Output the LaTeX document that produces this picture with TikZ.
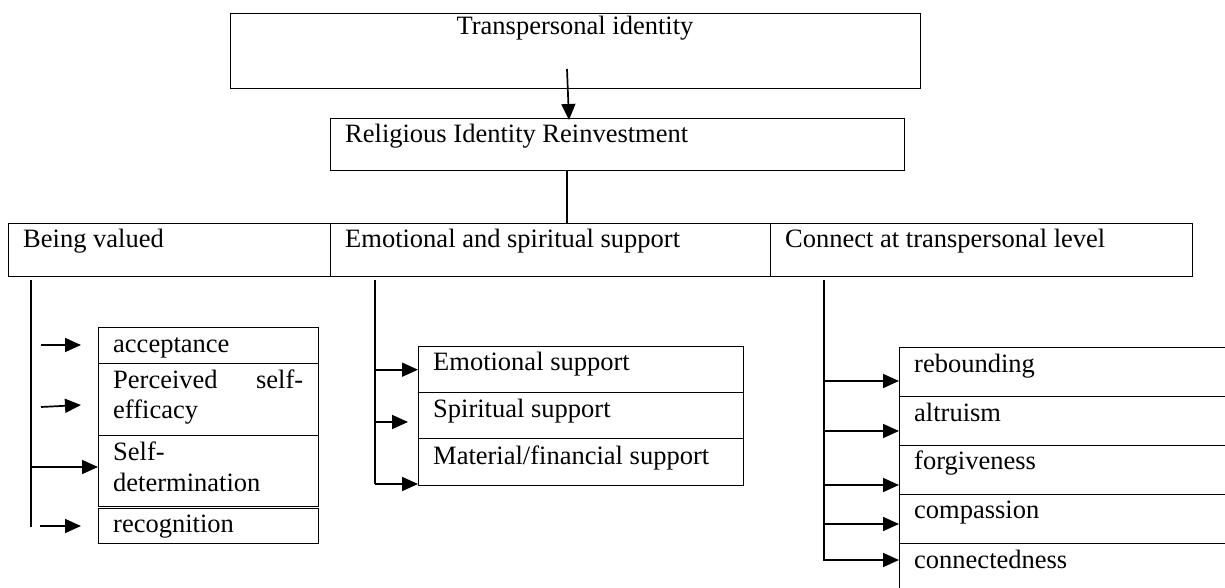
\documentclass[tikz,border=0pt]{standalone}
\usepackage{fontspec}
\setmainfont{Liberation Serif}
\usetikzlibrary{arrows.meta}
\begin{document}
\begin{tikzpicture}[x=1pt,y=-1pt,
  box/.style={draw, line width=1.4pt, inner sep=0pt, anchor=north west},
  txt/.style={inner sep=0pt, anchor=base west, font=\fontsize{26.5}{30.5}\selectfont, align=left},
  conn/.style={line width=1.7pt},
  arr/.style={line width=1.7pt, -{Triangle[length=16pt,width=14pt]}}]
\useasboundingbox (0,0) rectangle (1225,588);
\clip (0,0) rectangle (1225,588);

% top levels
\node[box, minimum width=690pt, minimum height=75pt] (tp) at (230,13) {};
\node[txt, anchor=base] (tpt) at (575,35) {Transpersonal identity};
\node[box, minimum width=574pt, minimum height=52pt] (rir) at (330,118) {};
\node[txt] (rirt) at (345,143) {Religious Identity Reinvestment};
\coordinate (a0) at (567,69);
\coordinate (a1) at (569,120);
\draw[arr] (a0) -- (a1);
\coordinate (b0) at (567,170);
\coordinate (b1) at (567,223);
\draw[conn] (b0) -- (b1);

% row
\node[box, minimum width=322pt, minimum height=53pt] (bv) at (8,223) {};
\node[box, minimum width=440pt, minimum height=53pt] (es) at (330,223) {};
\node[box, minimum width=422pt, minimum height=53pt] (ct) at (770,223) {};
\node[txt] (bvt) at (23,247) {Being valued};
\node[txt] (est) at (345,247) {Emotional and spiritual support};
\node[txt] (ctt) at (785,247) {Connect at transpersonal level};

% left column
\node[box, minimum width=220pt, minimum height=36pt] (acc) at (98,327) {};
\node[box, minimum width=220pt, minimum height=72pt] (pse) at (98,363) {};
\node[box, minimum width=220pt, minimum height=71pt] (sd) at (98,435) {};
\node[box, minimum width=220pt, minimum height=35pt] (rec) at (98,508) {};
\node[txt] (acct) at (113,352) {acceptance};
\node[txt] (pset) at (113,418.5) {\hbox to 190pt{Perceived\hfill self-}\\efficacy};
\node[txt] (sdt) at (113,491) {Self-\\determination};
\node[txt] (rect) at (113,532) {recognition};
\coordinate (l0) at (31,280);
\coordinate (l1) at (31,527);
\draw[conn] (l0) -- (l1);
\coordinate (la) at (41,345);  \coordinate (lat) at (81,345);
\coordinate (lp) at (41,407);  \coordinate (lpt) at (81,405);
\coordinate (ls) at (31,467);
\coordinate (lr) at (40,526);  \coordinate (lrt) at (81,526);
\draw[arr] (la) -- (lat);
\draw[arr] (lp) -- (lpt);
\draw[arr] (ls) -- (sd.west |- ls);
\draw[arr] (lr) -- (lrt);

% middle column
\node[box, minimum width=325pt, minimum height=46pt] (esu) at (418,346) {};
\node[box, minimum width=325pt, minimum height=46pt] (ssu) at (418,392) {};
\node[box, minimum width=325pt, minimum height=47pt] (msu) at (418,438) {};
\node[txt] (esut) at (433,370) {Emotional support};
\node[txt] (ssut) at (433,417) {Spiritual support};
\node[txt] (msut) at (433,464) {Material/financial support};
\coordinate (m0) at (375,280);
\coordinate (m1) at (375,484);
\coordinate (m2) at (375,422); \coordinate (m2t) at (408,422);
\draw[conn] (m0) -- (m1);
\draw[arr] (esu.west -| m0) -- (esu.west);
\draw[arr] (m2) -- (m2t);
\draw[arr] (m1) -- (msu.west |- m1);

% right column
\node[box, minimum width=341pt, minimum height=49pt] (reb) at (899,347) {};
\node[box, minimum width=341pt, minimum height=49pt] (alt) at (899,396) {};
\node[box, minimum width=341pt, minimum height=49pt] (forg) at (899,445) {};
\node[box, minimum width=341pt, minimum height=49pt] (comp) at (899,494) {};
\node[box, minimum width=341pt, minimum height=60pt] (conn) at (899,543) {};
\node[txt] (rebt) at (914,372) {rebounding};
\node[txt] (altt) at (914,421) {altruism};
\node[txt] (forgt) at (914,469) {forgiveness};
\node[txt] (compt) at (914,518) {compassion};
\node[txt] (connt) at (914,568) {connectedness};
\coordinate (r0) at (824,280);
\coordinate (r1) at (824,561);
\draw[conn] (r0) -- (r1);
\coordinate (ra) at (824,381);
\coordinate (rb) at (824,431);
\coordinate (rc) at (824,485);
\coordinate (rd) at (824,524);
\coordinate (re) at (824,560);
\draw[arr] (ra) -- (reb.west |- ra);
\draw[arr] (rb) -- (alt.west |- rb);
\draw[arr] (rc) -- (forg.west |- rc);
\draw[arr] (rd) -- (comp.west |- rd);
\draw[arr] (re) -- (conn.west |- re);
\end{tikzpicture}
\end{document}
